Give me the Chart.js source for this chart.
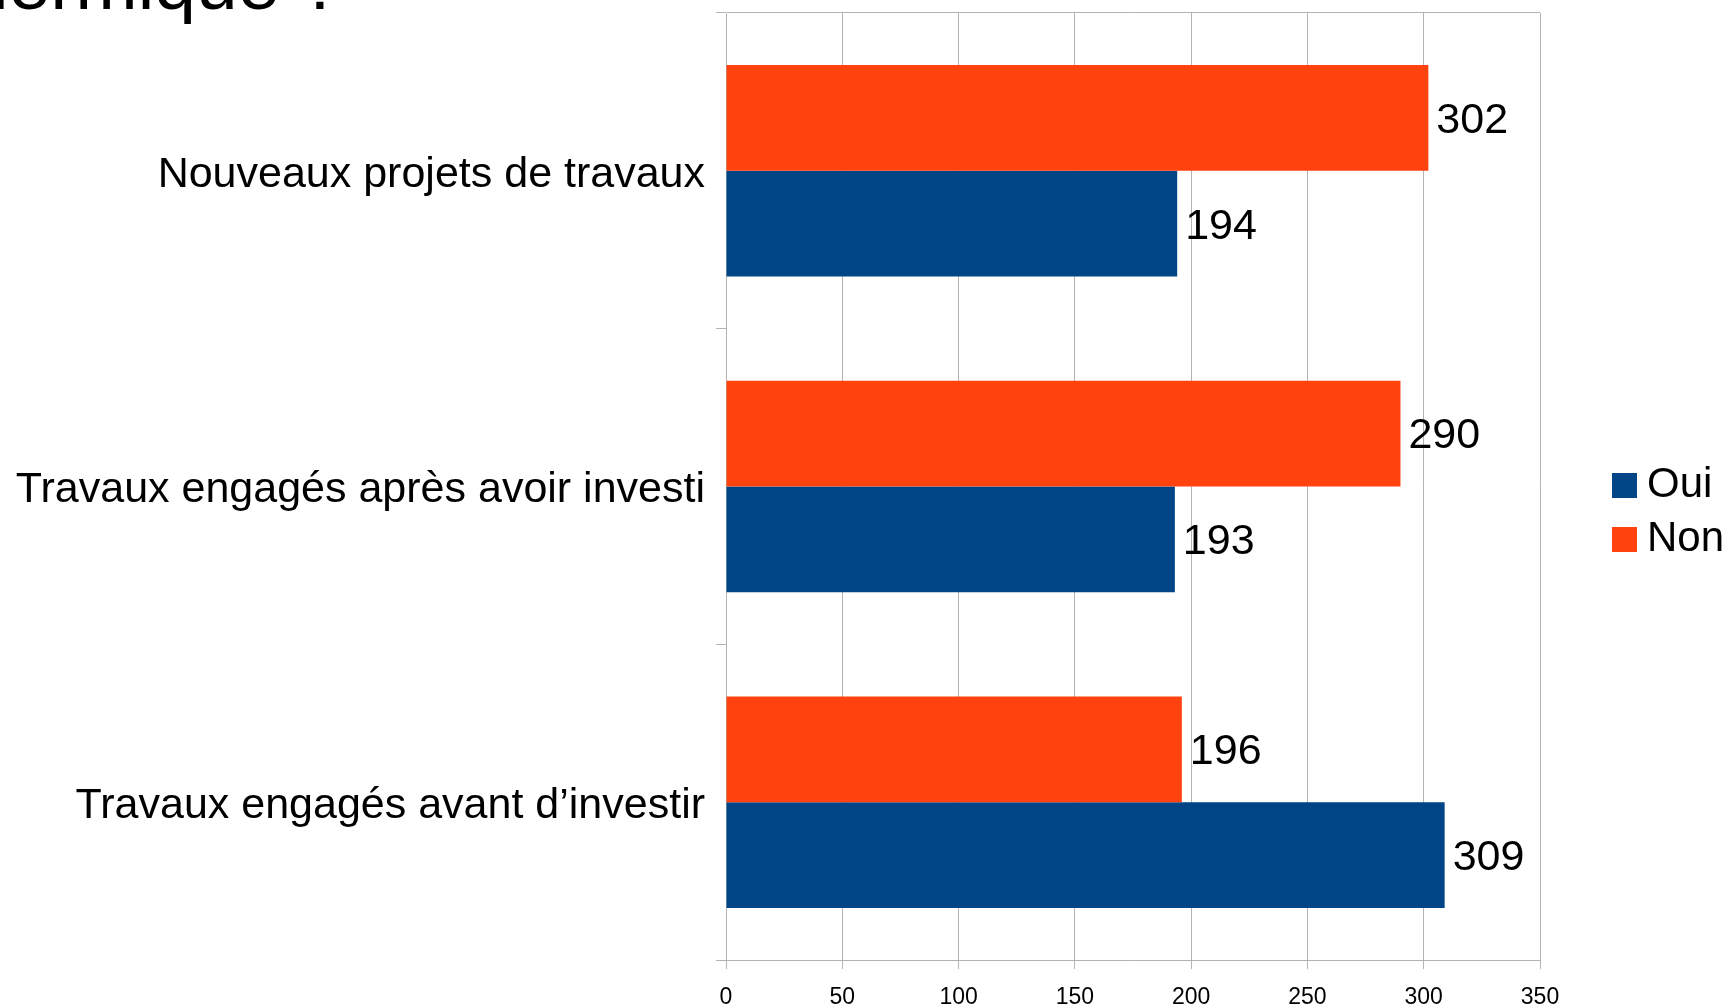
<!DOCTYPE html>
<html><head><meta charset="utf-8">
<script src="https://cdn.jsdelivr.net/npm/chart.js@4.4.0/dist/chart.umd.min.js"></script>
<style>
html,body{margin:0;padding:0;background:#fff;overflow:hidden}
#wrap{position:relative;width:1727px;height:1006px}
#title{position:absolute;left:-54px;top:-54px;font:75px/75px "Liberation Sans",sans-serif;color:#000;white-space:nowrap;z-index:2}
canvas{position:absolute;left:0;top:0}
</style></head><body>
<div id="wrap"><canvas id="c" width="1727" height="1006"></canvas><div id="title">thermique ?</div></div>
<script>
const categories = ["Nouveaux projets de travaux", "Travaux engagés après avoir investi", "Travaux engagés avant d’investir"];
const seriesNames = ["Oui", "Non"];
const ouiValues = [194, 193, 309];
const nonValues = [302, 290, 196];
const xTicks = [0, 50, 100, 150, 200, 250, 300, 350];
const colorOui = "#004586";
const colorNon = "#ff420e";
const gridColor = "#b3b3b3";
const FONT = '"Liberation Sans", Arial, sans-serif';

const valueLabels = {
  id: 'valueLabels',
  afterDatasetsDraw(chart) {
    const ctx = chart.ctx;
    ctx.save();
    ctx.font = '43px ' + FONT;
    ctx.fillStyle = '#000';
    ctx.textAlign = 'left';
    ctx.textBaseline = 'middle';
    chart.data.datasets.forEach((ds, i) => {
      chart.getDatasetMeta(i).data.forEach((el, j) => {
        ctx.fillText(String(ds.data[j]), el.x + 8, el.y + 3);
      });
    });
    ctx.restore();
  }
};

new Chart(document.getElementById('c'), {
  type: 'bar',
  data: {
    labels: categories,
    datasets: [
      { label: seriesNames[1], data: nonValues, backgroundColor: colorNon, borderWidth: 0, categoryPercentage: 0.67, barPercentage: 1 },
      { label: seriesNames[0], data: ouiValues, backgroundColor: colorOui, borderWidth: 0, categoryPercentage: 0.67, barPercentage: 1 }
    ]
  },
  options: {
    indexAxis: 'y',
    responsive: false,
    animation: false,
    layout: { padding: { top: 0, left: 0, right: 0, bottom: -19 } },
    plugins: {
      tooltip: { enabled: false },
      legend: {
        position: 'right',
        align: 'center',
        reverse: true,
        maxWidth: 116,
        labels: {
          usePointStyle: true,
          pointStyle: 'rect',
          boxWidth: 3, boxHeight: 25, padding: 12,
          color: '#000',
          font: { family: FONT, size: 42 }
        }
      }
    },
    scales: {
      x: {
        type: 'linear',
        min: xTicks[0], max: xTicks[xTicks.length - 1],
        afterFit(s) { s.height = 65; },
        afterBuildTicks(s) { s.ticks = xTicks.map(v => ({ value: v })); },
        grid: { color: gridColor, tickLength: 9, tickColor: gridColor },
        border: { color: gridColor },
        ticks: { color: '#000', padding: 15, font: { family: FONT, size: 23 } }
      },
      y: {
        type: 'category',
        afterFit(s) { s.width = 726; s.paddingTop = 13; s.paddingBottom = 0; },
        grid: {
          offset: true,
          drawOnChartArea: true,
          color: (c) => (c.index === 0 ? gridColor : 'rgba(0,0,0,0)'),
          tickColor: gridColor,
          tickLength: 10
        },
        border: { color: gridColor },
        ticks: { color: '#000', padding: 11, labelOffset: 4, font: { family: FONT, size: 43 } }
      },
      yPad: {
        type: 'linear',
        position: 'right',
        display: true,
        grid: { display: false, drawTicks: false },
        border: { display: false },
        ticks: { display: false },
        afterFit(s) { s.width = 71; s.paddingTop = 0; s.paddingBottom = 0; }
      }
    }
  },
  plugins: [valueLabels]
});
</script>
</body></html>
